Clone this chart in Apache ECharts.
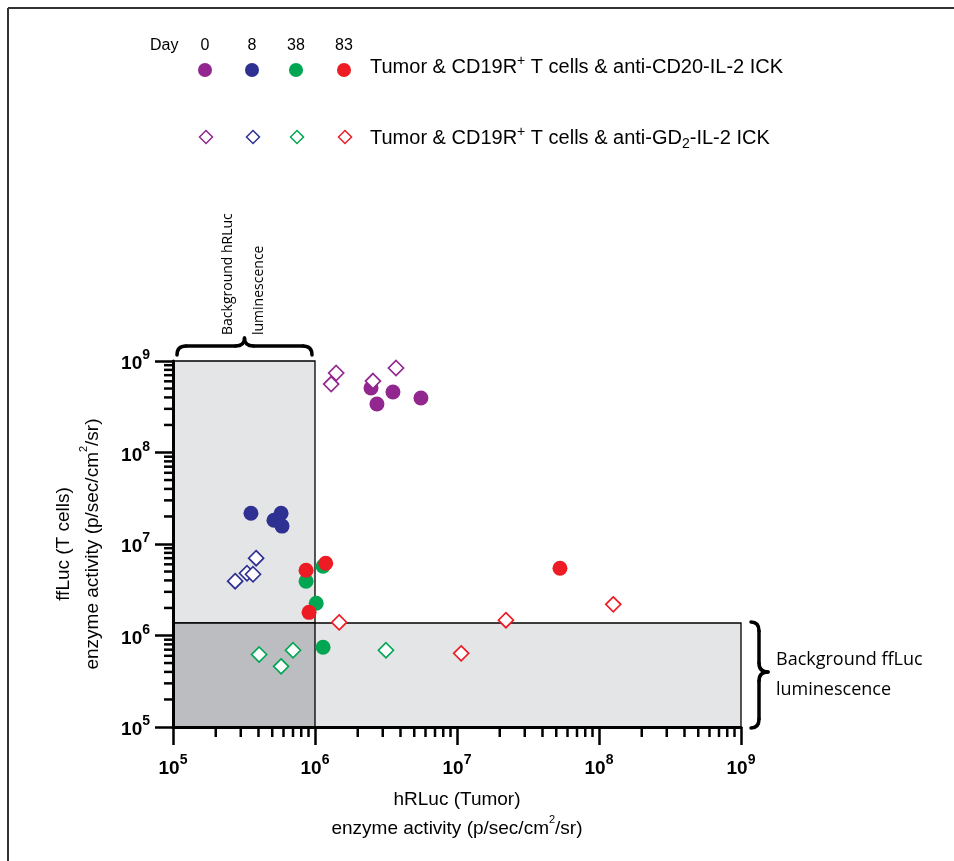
<!DOCTYPE html>
<html><head><meta charset="utf-8">
<script src="https://cdn.jsdelivr.net/npm/echarts@6/dist/echarts.min.js"></script>
<style>html,body{margin:0;padding:0;background:#fff}#c{width:954px;height:861px}</style>
</head><body><div id="c"></div>
<script>
// ---------- data ----------
const days = ['0', '8', '38', '83'];
const dayColors = ['#92278f', '#2e3192', '#00a651', '#ed1c24'];
const legendCD20 = 'Tumor & CD19R{sup|+} T cells & anti-CD20-IL-2 ICK';
const legendGD2 = 'Tumor & CD19R{sup|+} T cells & anti-GD{sub|2}-IL-2 ICK';
// [hRLuc (x), ffLuc (y)]
const cd20_d0 = [[2.48e6, 5.07e8], [2.73e6, 3.39e8], [3.54e6, 4.58e8], [5.57e6, 3.94e8]];
const cd20_d8 = [[3.54e5, 2.17e7], [5.77e5, 2.17e7], [5.14e5, 1.82e7], [5.86e5, 1.57e7]];
const cd20_d38 = [[1.14e6, 5.72e6], [8.65e5, 3.92e6], [1.02e6, 2.25e6], [1.14e6, 7.43e5]];
const cd20_d83 = [[1.19e6, 6.17e6], [8.65e5, 5.17e6], [9.08e5, 1.79e6], [5.31e7, 5.43e6]];
const gd2_d0 = [[1.41e6, 7.39e8], [1.30e6, 5.60e8], [2.56e6, 6.04e8], [3.72e6, 8.38e8]];
const gd2_d8 = [[3.85e5, 7.00e6], [2.74e5, 3.92e6], [3.32e5, 4.79e6], [3.66e5, 4.67e6]];
const gd2_d38 = [[4.04e5, 6.20e5], [5.77e5, 4.60e5], [7.00e5, 6.90e5], [3.16e6, 6.90e5]];
const gd2_d83 = [[1.48e6, 1.39e6], [2.21e7, 1.47e6], [1.26e8, 2.19e6], [1.07e7, 6.38e5]];
const axisMin = 1e5, axisMax = 1e9;
const decades = [1e5, 1e6, 1e7, 1e8];
const minorMult = [2, 3, 4, 5, 6, 7, 8, 9];
// background regions [x0, x1, y0, y1]
const bgRegions = [[1e5, 1e6, 1e5, 1e9], [1e5, 1e9, 1e5, 1.37e6], [1e5, 1e6, 1e5, 1.37e6]];
const bgFills = ['#e4e5e7', '#e4e5e7', '#bcbdc1'];
const xName = 'hRLuc (Tumor)\nenzyme activity (p/sec/cm{sup|2}/sr)';
const yName = 'ffLuc (T cells)\nenzyme activity (p/sec/cm{sup|2}/sr)';
const braceTopText = ['Background hRLuc', 'luminescence'];
const braceRightText = ['Background ffLuc', 'luminescence'];

// ---------- chart ----------
const FONT = "'Liberation Sans', Arial, sans-serif";
const chart = echarts.init(document.getElementById('c'));
const minorVals = [];
decades.forEach(d => minorMult.forEach(m => minorVals.push(d * m)));

const tickLabel = {
  formatter: v => '{b|10}{s|' + Math.round(Math.log10(v)) + '}',
  rich: {
    b: { fontSize: 19, fontWeight: 'bold', fontFamily: FONT, color: '#000', lineHeight: 25, verticalAlign: 'bottom' },
    s: { fontSize: 14, fontWeight: 'bold', fontFamily: FONT, color: '#000', lineHeight: 14, verticalAlign: 'top' }
  }
};
const nameStyle = {
  fontSize: 19, fontFamily: FONT, color: '#000', lineHeight: 29,
  rich: { sup: { fontSize: 11, fontFamily: FONT, color: '#000', lineHeight: 11, verticalAlign: 'top' } }
};
function axisCommon() {
  return {
    type: 'log', logBase: 10, min: axisMin, max: axisMax, z: 5,
    axisLine: { show: true, lineStyle: { color: '#000', width: 3 } },
    axisTick: { show: true, length: 18, lineStyle: { color: '#000', width: 2.5 } },
    splitLine: { show: false }, minorTick: { show: false },
    nameLocation: 'middle', nameTextStyle: nameStyle
  };
}
function scatter(data, i, filled) {
  return {
    type: 'scatter', data: data, z: 3,
    symbol: filled ? 'circle' : 'diamond', symbolSize: filled ? 15 : 15,
    itemStyle: filled ? { color: dayColors[i], opacity: 1 } : { color: '#fff', borderColor: dayColors[i], borderWidth: 1.7, opacity: 1 },
    emphasis: { disabled: true }
  };
}
const option = {
  animation: false,
  grid: { left: 173, right: 213, top: 361, bottom: 134, containLabel: false, outerBoundsMode: 'none' },
  xAxis: Object.assign(axisCommon(), { name: xName, nameGap: 58, axisLabel: Object.assign({ margin: 26 }, tickLabel) }),
  yAxis: Object.assign(axisCommon(), { name: yName, nameGap: 66, axisLabel: Object.assign({ margin: 23 }, tickLabel) }),
  series: [
    {
      type: 'custom', z: 1, silent: true, clip: false, data: bgRegions,
      encode: { x: [0, 1], y: [2, 3] },
      renderItem: (params, api) => {
        const p0 = api.coord([api.value(0), api.value(2)]);
        const p1 = api.coord([api.value(1), api.value(3)]);
        return { type: 'rect', shape: { x: p0[0], y: p1[1], width: p1[0] - p0[0], height: p0[1] - p1[1] },
          style: { fill: bgFills[params.dataIndex], stroke: '#000', lineWidth: 1.3 } };
      }
    },
    {
      type: 'custom', z: 6, silent: true, clip: false, data: minorVals.map(v => [v, axisMin]),
      renderItem: (params, api) => {
        const p = api.coord([api.value(0), api.value(1)]);
        return { type: 'line', shape: { x1: p[0], y1: p[1], x2: p[0], y2: p[1] + 10 }, style: { stroke: '#000', lineWidth: 2.5 } };
      }
    },
    {
      type: 'custom', z: 6, silent: true, clip: false, data: minorVals.map(v => [axisMin, v]),
      renderItem: (params, api) => {
        const p = api.coord([api.value(0), api.value(1)]);
        return { type: 'line', shape: { x1: p[0], y1: p[1], x2: p[0] - 9, y2: p[1] }, style: { stroke: '#000', lineWidth: 2.5 } };
      }
    },
    scatter(cd20_d0, 0, true), scatter(cd20_d8, 1, true), scatter(cd20_d38, 2, true), scatter(cd20_d83, 3, true),
    scatter(gd2_d0, 0, false), scatter(gd2_d8, 1, false), scatter(gd2_d38, 2, false), scatter(gd2_d83, 3, false)
  ]
};
chart.setOption(option);

// ---------- annotations (legend, braces, frame) ----------
const px = (x, y) => chart.convertToPixel({ gridIndex: 0 }, [x, y]);
const g = [];
const BR = { stroke: '#000', lineWidth: 3.5, fill: null, lineCap: 'round' };
// frame
g.push({ type: 'line', shape: { x1: 8, y1: 8, x2: 954, y2: 8 }, style: { stroke: '#333', lineWidth: 2 } });
g.push({ type: 'line', shape: { x1: 8, y1: 8, x2: 8, y2: 861 }, style: { stroke: '#333', lineWidth: 2 } });
// legend
const legX = [205, 252, 296, 344];
g.push({ type: 'text', x: 150, y: 46, style: { text: 'Day', fontSize: 16, fontFamily: FONT, fill: '#000', verticalAlign: 'middle' } });
days.forEach((d, i) => {
  g.push({ type: 'text', x: legX[i], y: 46, style: { text: d, fontSize: 16, fontFamily: FONT, fill: '#000', align: 'center', verticalAlign: 'middle' } });
  g.push({ type: 'circle', shape: { cx: legX[i], cy: 70, r: 7 }, style: { fill: dayColors[i] } });
  const cx = legX[i] + 1, cy = 137, h = 6.5;
  g.push({ type: 'polygon', shape: { points: [[cx, cy - h], [cx + h, cy], [cx, cy + h], [cx - h, cy]] }, style: { fill: '#fff', stroke: dayColors[i], lineWidth: 1.5 } });
});
const legRich = {
  sup: { fontSize: 14, fontFamily: FONT, fill: '#000', lineHeight: 14, verticalAlign: 'top' },
  sub: { fontSize: 14, fontFamily: FONT, fill: '#000', lineHeight: 14, verticalAlign: 'bottom' }
};
g.push({ type: 'text', x: 370, y: 67, style: { text: legendCD20, fontSize: 20, fontFamily: FONT, fill: '#000', lineHeight: 26, verticalAlign: 'middle', rich: legRich } });
g.push({ type: 'text', x: 370, y: 138, style: { text: legendGD2, fontSize: 20, fontFamily: FONT, fill: '#000', lineHeight: 26, verticalAlign: 'middle', rich: legRich } });

// top brace over background hRLuc region
(function () {
  const a = px(1e5, 1e9), b = px(1e6, 1e9);
  const xa = a[0] + 4, xb = b[0] - 3, yb = a[1] - 6, yh = yb - 9, yt = yb - 17, xm = (xa + xb) / 2, r = 9;
  g.push({ type: 'bezierCurve', shape: { x1: xa, y1: yb, cpx1: xa, cpy1: yh, x2: xa + r, y2: yh }, style: BR });
  g.push({ type: 'line', shape: { x1: xa + r, y1: yh, x2: xm - r, y2: yh }, style: BR });
  g.push({ type: 'bezierCurve', shape: { x1: xm - r, y1: yh, cpx1: xm, cpy1: yh, x2: xm, y2: yt }, style: BR });
  g.push({ type: 'bezierCurve', shape: { x1: xm, y1: yt, cpx1: xm, cpy1: yh, x2: xm + r, y2: yh }, style: BR });
  g.push({ type: 'line', shape: { x1: xm + r, y1: yh, x2: xb - r, y2: yh }, style: BR });
  g.push({ type: 'bezierCurve', shape: { x1: xb - r, y1: yh, cpx1: xb, cpy1: yh, x2: xb, y2: yb }, style: BR });
  [228, 259].forEach((tx, i) => {
    g.push({ type: 'text', x: tx, y: 335, rotation: Math.PI / 2,
      style: { text: braceTopText[i], fontSize: 14, fontFamily: "'Open Sans', sans-serif", fill: '#000', align: 'left', verticalAlign: 'middle' } });
  });
})();
// right brace beside background ffLuc region
(function () {
  const a = px(1e9, 1.37e6), b = px(1e9, 1e5);
  const ya = a[1] - 1, yb2 = b[1] + 1, xb = a[0] + 10, xh = xb + 8, xt = xb + 17, ym = (ya + yb2) / 2 - 3, r = 9;
  g.push({ type: 'bezierCurve', shape: { x1: xb, y1: ya, cpx1: xh, cpy1: ya, x2: xh, y2: ya + r }, style: BR });
  g.push({ type: 'line', shape: { x1: xh, y1: ya + r, x2: xh, y2: ym - r }, style: BR });
  g.push({ type: 'bezierCurve', shape: { x1: xh, y1: ym - r, cpx1: xh, cpy1: ym, x2: xt, y2: ym }, style: BR });
  g.push({ type: 'bezierCurve', shape: { x1: xt, y1: ym, cpx1: xh, cpy1: ym, x2: xh, y2: ym + r }, style: BR });
  g.push({ type: 'line', shape: { x1: xh, y1: ym + r, x2: xh, y2: yb2 - r }, style: BR });
  g.push({ type: 'bezierCurve', shape: { x1: xh, y1: yb2 - r, cpx1: xh, cpy1: yb2, x2: xb, y2: yb2 }, style: BR });
  [660, 690].forEach((ty, i) => {
    g.push({ type: 'text', x: 776, y: ty,
      style: { text: braceRightText[i], fontSize: 18, fontFamily: "'Open Sans', sans-serif", fill: '#000', align: 'left', verticalAlign: 'middle' } });
  });
})();
chart.setOption({ graphic: g });
</script></body></html>
